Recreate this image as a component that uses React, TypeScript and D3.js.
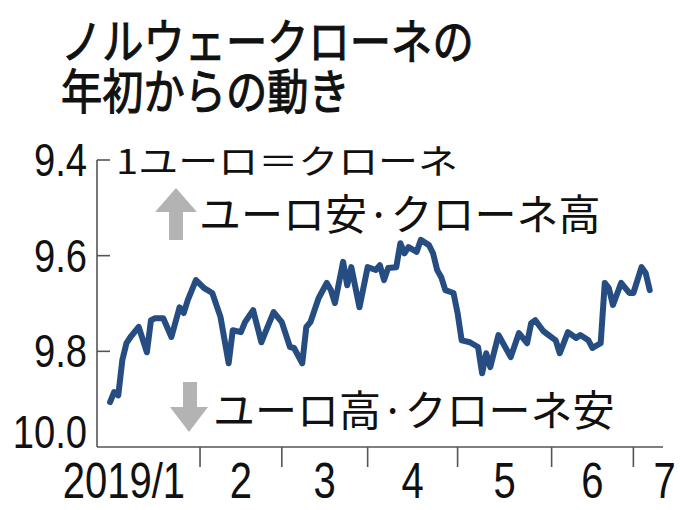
import React from "react";
import * as d3 from "d3";

const titleLines = ["ノルウェークローネの", "年初からの動き"];
const unitLabel = "1ユーロ＝クローネ";
const upLabel = "ユーロ安·クローネ高";
const downLabel = "ユーロ高·クローネ安";

const dates = [
  "2019-01-02", "2019-01-03", "2019-01-04", "2019-01-07", "2019-01-08", "2019-01-09", "2019-01-11",
  "2019-01-15", "2019-01-16", "2019-01-17", "2019-01-21", "2019-01-23", "2019-01-25", "2019-01-28",
  "2019-01-29", "2019-01-31", "2019-02-04", "2019-02-06", "2019-02-08", "2019-02-12", "2019-02-13",
  "2019-02-15", "2019-02-18", "2019-02-20", "2019-02-22", "2019-02-25", "2019-02-27", "2019-03-01",
  "2019-03-05", "2019-03-06", "2019-03-08", "2019-03-11", "2019-03-12", "2019-03-14", "2019-03-18",
  "2019-03-19", "2019-03-20", "2019-03-22", "2019-03-25", "2019-03-26", "2019-03-28", "2019-04-01",
  "2019-04-03", "2019-04-04", "2019-04-05", "2019-04-08", "2019-04-10", "2019-04-11", "2019-04-12",
  "2019-04-15", "2019-04-17", "2019-04-18", "2019-04-22", "2019-04-23", "2019-04-24", "2019-04-25",
  "2019-04-26", "2019-04-30", "2019-05-01", "2019-05-02", "2019-05-06", "2019-05-08", "2019-05-09",
  "2019-05-10", "2019-05-13", "2019-05-15", "2019-05-20", "2019-05-22", "2019-05-24", "2019-05-27",
  "2019-05-28", "2019-05-30", "2019-06-04", "2019-06-05", "2019-06-07", "2019-06-11", "2019-06-12",
  "2019-06-14", "2019-06-17", "2019-06-19", "2019-06-20", "2019-06-21", "2019-06-24", "2019-06-26",
  "2019-06-28", "2019-07-01", "2019-07-03", "2019-07-04", "2019-07-05",
];

const rates = [
  9.906, 9.885, 9.892, 9.818, 9.783, 9.770, 9.749,
  9.802, 9.735, 9.731, 9.731, 9.770, 9.708, 9.720,
  9.693, 9.651, 9.668, 9.678, 9.728, 9.825, 9.756,
  9.760, 9.739, 9.714, 9.781, 9.760, 9.718, 9.739,
  9.791, 9.793, 9.825, 9.749, 9.739, 9.689, 9.657,
  9.672, 9.699, 9.613, 9.662, 9.624, 9.708, 9.624,
  9.630, 9.620, 9.651, 9.626, 9.624, 9.574, 9.595,
  9.582, 9.592, 9.567, 9.578, 9.595, 9.630, 9.645,
  9.672, 9.678, 9.720, 9.777, 9.781, 9.791, 9.846,
  9.804, 9.833, 9.766, 9.812, 9.762, 9.783, 9.741,
  9.735, 9.758, 9.777, 9.804, 9.760, 9.772, 9.766,
  9.777, 9.793, 9.783, 9.657, 9.668, 9.703, 9.657,
  9.678, 9.678, 9.624, 9.636, 9.672,
];

const yTicks = [9.4, 9.6, 9.8, 10.0];
const monthStarts = ["2019-01-01", "2019-02-01", "2019-03-01", "2019-04-01", "2019-05-01", "2019-06-01", "2019-07-01", "2019-08-01"];
const monthLabels = ["2019/1", "2", "3", "4", "5", "6", "7"];

const parse = d3.timeParse("%Y-%m-%d");
const origin = parse("2019-01-01") as Date;

// number of weekdays from Jan 1 (inclusive) to date (exclusive)
function tradingIndex(s: string): number {
  const d = parse(s) as Date;
  return d3.timeDay.range(origin, d).filter((x) => x.getDay() !== 0 && x.getDay() !== 6).length;
}

const NUM_FONT = "'Liberation Sans', Arial, sans-serif";
const JP_FONT = "'Noto Sans CJK JP', sans-serif";

export default function App() {
  const W = 680;
  const H = 510;
  const axisX = 97;
  const axisBottom = 447;
  const axisRight = 663;

  const x = d3.scaleLinear().domain([0, 136]).range([106, 662]);
  const y = d3.scaleLinear().domain([9.4, 10.0]).range([160, 447]);

  const pts = dates.map((d, i) => [tradingIndex(d), rates[i]] as [number, number]);
  const line = d3
    .line<[number, number]>()
    .x((p) => x(p[0]))
    .y((p) => y(p[1]))
    .curve(d3.curveLinear);

  const startIdx = monthStarts.map(tradingIndex);
  const tickIdx = startIdx.slice(1, 7);

  const labelPos = monthLabels.map((lab, i) => {
    if (i === 0) return { x: x(startIdx[1]) - 15, anchor: "end" };
    if (i === 6) return { x: x(startIdx[6]) + 20, anchor: "start" };
    return { x: (x(startIdx[i]) + x(startIdx[i + 1])) / 2, anchor: "middle" };
  });

  const axisColor = "#555";

  return (
    <svg width={W} height={H} style={{ position: "absolute", left: 0, top: 0, background: "#fff" }}>
      {/* title */}
      {titleLines.map((t, i) => (
        <text
          key={t}
          transform={`translate(61,${59 + i * 50}) scale(0.86,1)`}
          fontFamily={JP_FONT}
          fontWeight={400}
          fontSize={48}
          fill="#111"
          stroke="#111"
          strokeWidth={1.1}
        >
          {t}
        </text>
      ))}

      {/* y axis */}
      <line x1={axisX} x2={axisX} y1={y(9.4)} y2={axisBottom} stroke={axisColor} strokeWidth={1.6} />
      {yTicks.slice(0, 3).map((t) => (
        <line key={t} x1={axisX} x2={axisX + 13} y1={y(t)} y2={y(t)} stroke={axisColor} strokeWidth={1.6} />
      ))}
      {yTicks.map((t, i) => (
        <text
          key={"l" + t}
          transform={`translate(87,${i === yTicks.length - 1 ? y(t) + 1 : y(t) + 16}) scale(0.83,1)`}
          textAnchor="end"
          fontFamily={NUM_FONT}
          fontSize={46}
          fill="#111"
        >
          {t.toFixed(1)}
        </text>
      ))}

      {/* x axis */}
      <line x1={axisX} x2={axisRight} y1={axisBottom} y2={axisBottom} stroke={axisColor} strokeWidth={1.6} />
      {tickIdx.map((t) => (
        <line key={t} x1={x(t)} x2={x(t)} y1={axisBottom} y2={axisBottom + 20} stroke={axisColor} strokeWidth={1.6} />
      ))}
      {monthLabels.map((m, i) => (
        <text
          key={m}
          transform={`translate(${labelPos[i].x},498) scale(0.8,1)`}
          textAnchor={labelPos[i].anchor as any}
          fontFamily={NUM_FONT}
          fontSize={50}
          fill="#111"
        >
          {m}
        </text>
      ))}

      {/* annotations */}
      <text transform="translate(116,174) scale(1,0.85)" fontFamily={JP_FONT} fontSize={40} fill="#111">
        {unitLabel}
      </text>
      <path d="M155,212 L176,188 L197,212 L183,212 L183,240 L169,240 L169,212 Z" fill="#b3b3b3" />
      <text x={199} y={230} fontFamily={JP_FONT} fontSize={42} fill="#111">
        {upLabel}
      </text>
      <path d="M183,382 L197,382 L197,407 L208,407 L189,432 L170,407 L183,407 Z" fill="#b3b3b3" />
      <text x={213} y={426} fontFamily={JP_FONT} fontSize={42} fill="#111">
        {downLabel}
      </text>

      {/* series */}
      <path
        d={line(pts) || ""}
        fill="none"
        stroke="#264d82"
        strokeWidth={6}
        strokeLinejoin="round"
        strokeLinecap="round"
      />
    </svg>
  );
}
